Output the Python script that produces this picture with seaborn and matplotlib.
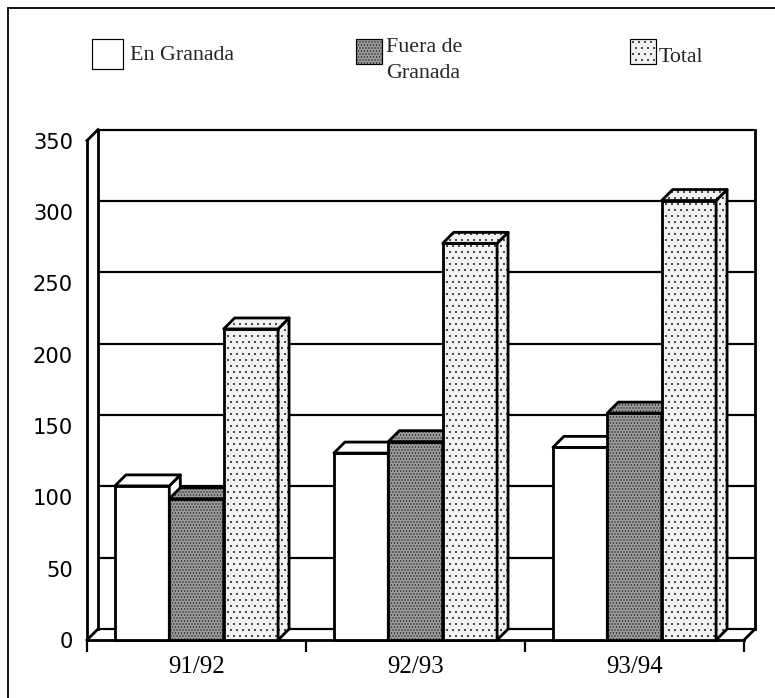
import matplotlib
matplotlib.use("Agg")
import pandas as pd
import matplotlib.pyplot as plt
from matplotlib.patches import Polygon, Rectangle
from matplotlib.lines import Line2D
import seaborn as sns

# ---- data -------------------------------------------------------------
periodos = ["91/92", "92/93", "93/94"]
en_granada = [108, 131, 135]
fuera_granada = [99, 139, 159]
total = [218, 278, 308]
series = ["En Granada", "Fuera de\nGranada", "Total"]
y_ticks = [0, 50, 100, 150, 200, 250, 300, 350]

df = pd.DataFrame({
    "periodo": periodos * 3,
    "serie": [series[0]] * 3 + [series[1]] * 3 + [series[2]] * 3,
    "valor": en_granada + fuera_granada + total,
})

# ---- style ------------------------------------------------------------
W, H, DPI = 775, 698, 72
sns.set_theme(style="white")
plt.rcParams["font.family"] = "DejaVu Sans"
plt.rcParams["hatch.linewidth"] = 0.6

faces = {series[0]: "#ffffff", series[1]: "#9a9a9a", series[2]: "#f2f2f2"}
hatches = {series[0]: "", series[1]: "....", series[2]: ".."}
serif = "Liberation Serif"
LW = 2.8
DEPTH = 11  # pixels of 3D depth, to the right and upwards

fig = plt.figure(figsize=(W / DPI, H / DPI), dpi=DPI)
fig.patch.set_facecolor("white")
ax = fig.add_axes([87 / W, 1 - 640 / H, (744 - 87) / W, (640 - 140.6) / H])

sns.barplot(data=df, x="periodo", y="valor", hue="serie", order=periodos,
            hue_order=series, palette=faces, width=0.745, saturation=1,
            edgecolor="black", linewidth=LW, legend=False, ax=ax)

ax.set_xlim(-0.5, 2.5)
ax.set_ylim(0, 350)
ax.set_xlabel("")
ax.set_ylabel("")
ax.set_facecolor("none")
for s in ax.spines.values():
    s.set_visible(False)

# depth offset expressed in data units
p0 = ax.transData.transform((0, 0))
q = ax.transData.inverted().transform((p0[0] + DEPTH, p0[1] + DEPTH))
dx, dy = q[0], q[1]

# ---- back wall, left wall and floor ----------------------------------
x0, x1 = -0.5, 2.5
ax.hlines([v + dy for v in y_ticks], x0 + dx, x1 + dx, colors="black",
          linewidth=2.2, zorder=1, clip_on=False)
line_kw = dict(color="black", linewidth=LW, clip_on=False, zorder=1.5,
               solid_capstyle="projecting")
ax.plot([x0 + dx, x0 + dx], [dy, 350 + dy], **line_kw)
ax.plot([x1 + dx, x1 + dx], [dy, 350 + dy], **line_kw)
ax.plot([x0, x0], [0, 350], **line_kw)
ax.plot([x0, x0 + dx], [350, 350 + dy], **line_kw)
ax.plot([x0, x0 + dx], [0, dy], **line_kw)
ax.plot([x0, x1], [0, 0], **line_kw)
ax.plot([x1, x1 + dx], [0, dy], **line_kw)

# ---- 3D faces for every bar ------------------------------------------
bars = sorted(ax.patches, key=lambda p: p.get_x())
for i, bar in enumerate(bars):
    h_idx = i % 3
    key = series[h_idx]
    bx0 = bar.get_x()
    bx1 = bx0 + bar.get_width()
    top = bar.get_height()
    z = 3 + h_idx
    bar.set_zorder(z)
    bar.set_hatch(hatches[key])
    bar.set_clip_on(False)
    top_face = Polygon([(bx0, top), (bx1, top), (bx1 + dx, top + dy),
                        (bx0 + dx, top + dy)], closed=True,
                       facecolor=faces[key], edgecolor="black", linewidth=LW,
                       hatch=hatches[key], zorder=z + 0.5, clip_on=False,
                       joinstyle="round")
    side_face = Polygon([(bx1, 0), (bx1, top), (bx1 + dx, top + dy),
                         (bx1 + dx, dy)], closed=True,
                        facecolor=faces[key], edgecolor="black", linewidth=LW,
                        hatch=hatches[key], zorder=z + 0.5, clip_on=False,
                        joinstyle="round")
    ax.add_patch(side_face)
    ax.add_patch(top_face)

# ---- ticks ------------------------------------------------------------
ax.set_yticks(y_ticks)
ax.set_yticklabels([str(v) for v in y_ticks], fontsize=21,
                   family="DejaVu Sans")
ax.tick_params(axis="y", length=0, pad=14, colors="black")
ax.set_xticks(range(len(periodos)))
ax.set_xticklabels(periodos, fontsize=25, family=serif)
ax.set_xticks([-0.5, 0.5, 1.5, 2.5], minor=True)
ax.tick_params(axis="x", which="major", length=0, pad=16, colors="black")
ax.tick_params(axis="x", which="minor", bottom=True, length=12, width=2.2,
               direction="out", color="black")

# ---- frame lines --------------------------------------------------------
fig.add_artist(Line2D([8 / W, 1], [1 - 8 / H, 1 - 8 / H],
                      transform=fig.transFigure, color="black", lw=1.8))
fig.add_artist(Line2D([8 / W, 8 / W], [0, 1 - 8 / H],
                      transform=fig.transFigure, color="black", lw=1.8))

# ---- legend -------------------------------------------------------------
def legend_box(x, y, w, h, key):
    fig.add_artist(Rectangle((x / W, 1 - (y + h) / H), w / W, h / H,
                             transform=fig.transFigure, facecolor=faces[key],
                             edgecolor="black", linewidth=1.2,
                             hatch=hatches[key]))

legend_box(92, 39, 31, 30, series[0])
fig.text(130 / W, 1 - 55 / H, "En Granada", family=serif, fontsize=22,
         va="center", ha="left")
legend_box(356, 39, 26, 25, series[1])
fig.text(386 / W, 1 - 47 / H, "Fuera de", family=serif, fontsize=22,
         va="center", ha="left")
fig.text(386 / W, 1 - 74 / H, "Granada", family=serif, fontsize=22,
         va="center", ha="left")
legend_box(630, 39, 26, 25, series[2])
fig.text(659 / W, 1 - 58 / H, "Total", family=serif, fontsize=22,
         va="center", ha="left")

fig.savefig("out.png", dpi=DPI)
